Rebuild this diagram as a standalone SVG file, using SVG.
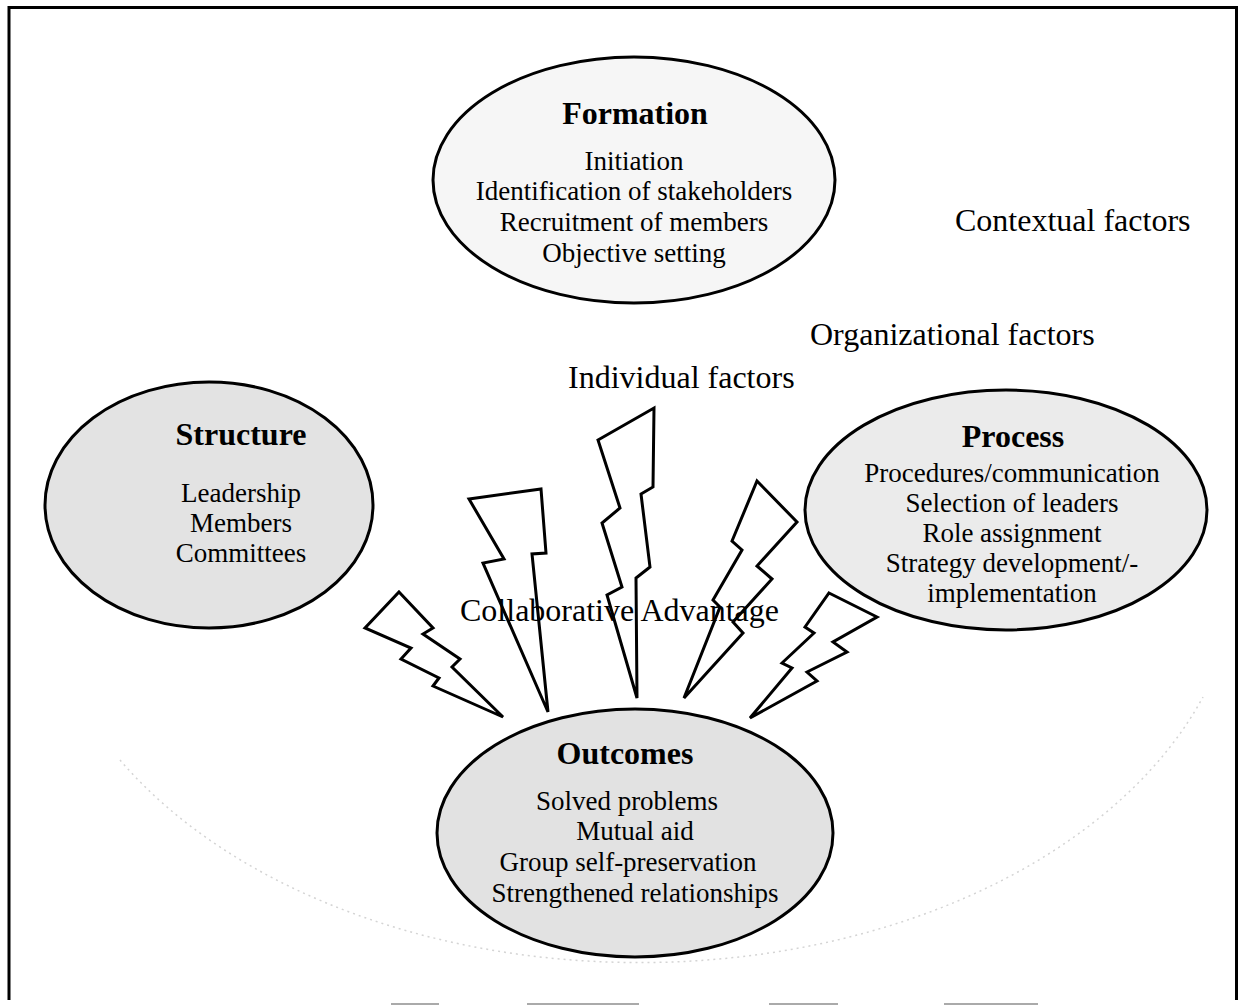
<svg xmlns="http://www.w3.org/2000/svg" width="1246" height="1006" viewBox="0 0 1246 1006">
<style>
text{font-family:"Liberation Serif","Times New Roman",serif;fill:#000}
.t{font-size:32px;font-weight:bold;text-anchor:middle}
.i{font-size:27px;text-anchor:middle}
.f{font-size:32px}
.node{stroke:#000;stroke-width:3}
.bolt{fill:#fff;stroke:#000;stroke-width:3;stroke-linejoin:miter}
</style>
<rect width="1246" height="1006" fill="#fff"/>
<g id="frame" stroke="#000" stroke-width="3" fill="none">
<path d="M9,1000 V7.5 H1236.5 V1000"/>
</g>
<g id="frame-bottom-fragments" stroke="#aaa" stroke-width="2">
<line x1="391" y1="1004" x2="439" y2="1004"/>
<line x1="527" y1="1004" x2="639" y2="1004"/>
<line x1="769" y1="1004" x2="838" y2="1004"/>
<line x1="944" y1="1004" x2="1038" y2="1004"/>
</g>
<g id="rings" fill="none" stroke="#d4d4d4" stroke-width="1.5" stroke-dasharray="2 4">
<path d="M120,760 A600,405 0 0 0 1203,697"/>
</g>
<g id="free-labels">
<text class="f" x="955" y="231">Contextual factors</text>
<text class="f" x="810" y="345">Organizational factors</text>
<text class="f" x="568" y="388">Individual factors</text>
</g>
<g id="connectors">
<polygon class="bolt" points="399,592 433,628 423,634 460,659 452,667 503,717 433,686 439,678 401,659 411,648 365,628"/>
<polygon class="bolt" points="469,499 541,489 546,553 532,554 548,712 483,563 504,559"/>
<polygon class="bolt" points="598,440 654,408 653,487 641,494 650,567 636,578 637,698 607,595 622,587 602,523 620,508"/>
<polygon class="bolt" points="757,481 797,522 757,566 772,579 733,622 743,633 684,698 720,607 713,600 742,550 732,541"/>
<polygon class="bolt" points="829,593 877,617 833,642 847,652 807,672 817,681 750,718 792,668 782,663 814,633 805,627"/>
</g>
<g id="formation">
<ellipse class="node" cx="634" cy="180" rx="201" ry="123" fill="#f6f6f6"/>
<text class="t" x="635" y="124">Formation</text>
<text class="i" x="634" y="170">Initiation</text>
<text class="i" x="634" y="200">Identification of stakeholders</text>
<text class="i" x="634" y="231">Recruitment of members</text>
<text class="i" x="634" y="262">Objective setting</text>
</g>
<g id="structure">
<ellipse class="node" cx="209" cy="505" rx="164" ry="123" fill="#e3e3e3"/>
<text class="t" x="241" y="445">Structure</text>
<text class="i" x="241" y="502">Leadership</text>
<text class="i" x="241" y="532">Members</text>
<text class="i" x="241" y="562">Committees</text>
</g>
<g id="process">
<ellipse class="node" cx="1006" cy="510" rx="201" ry="120" fill="#ebebeb"/>
<text class="t" x="1013" y="447">Process</text>
<text class="i" x="1012" y="482">Procedures/communication</text>
<text class="i" x="1012" y="512">Selection of leaders</text>
<text class="i" x="1012" y="542">Role assignment</text>
<text class="i" x="1012" y="572">Strategy development/-</text>
<text class="i" x="1012" y="602">implementation</text>
</g>
<g id="outcomes">
<ellipse class="node" cx="635" cy="833" rx="198" ry="124" fill="#e2e2e2"/>
<text class="t" x="625" y="764">Outcomes</text>
<text class="i" x="627" y="810">Solved problems</text>
<text class="i" x="635" y="840">Mutual aid</text>
<text class="i" x="628" y="871">Group self-preservation</text>
<text class="i" x="635" y="902">Strengthened relationships</text>
</g>
<g id="collaborative-advantage">
<text class="f" x="460" y="621">Collaborative Advantage</text>
</g>
</svg>
